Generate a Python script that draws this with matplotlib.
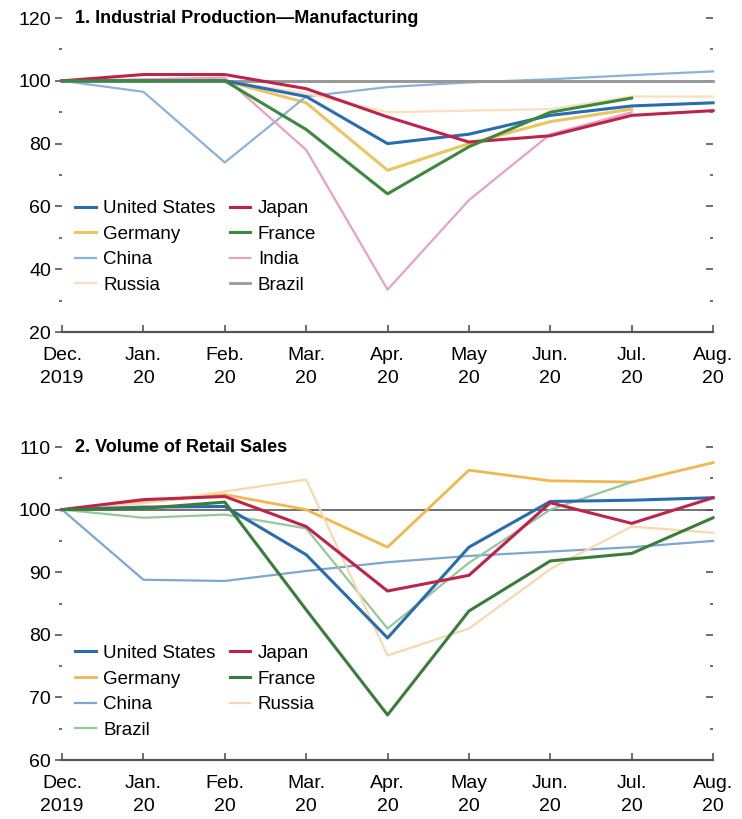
import matplotlib.pyplot as plt
import numpy as np
from matplotlib.ticker import MultipleLocator

plt.rcParams["font.family"] = ["Liberation Sans", "DejaVu Sans"]

nan = np.nan
months = ["Dec.\n2019", "Jan.\n20", "Feb.\n20", "Mar.\n20", "Apr.\n20",
          "May\n20", "Jun.\n20", "Jul.\n20", "Aug.\n20"]

# Panel 1: industrial production, manufacturing (Dec. 2019 = 100)
ip_us = [100, 100, 100, 95, 80, 83, 89, 92, 93]
ip_japan = [100, 102, 102, 97.5, 88.5, 80.5, 82.5, 89, 90.5]
ip_germany = [100, 100, 100, 93, 71.5, 80, 87, 91, nan]
ip_france = [100, 100, 100, 84.5, 64, 79, 90, 94.5, nan]
ip_china = [100, 96.5, 74, 95, 98, 99.5, 100.5, 101.8, 103]
ip_india = [100, 100.5, 101, 78, 33.5, 62, 83, 90, nan]
ip_russia = [100, 100, 100, 96, 90, 90.5, 91, 95, 95]
ip_brazil = [100, 100, 100, 100, 100, 100, 100, 100, 100]

# Panel 2: volume of retail sales (Dec. 2019 = 100)
rs_us = [100, 100.4, 100.5, 92.8, 79.5, 94, 101.3, 101.5, 101.9]
rs_japan = [100, 101.6, 102.1, 97.3, 87, 89.5, 101.1, 97.8, 101.9]
rs_germany = [100, 101.2, 102.4, 100, 94, 106.3, 104.6, 104.4, 107.5]
rs_france = [100, 100.2, 101.2, 84, 67.2, 83.8, 91.8, 93, 98.7]
rs_china = [100, 88.8, 88.6, 90.2, 91.6, 92.6, 93.3, 94, 95]
rs_russia = [100, 101, 102.9, 104.8, 76.7, 81, 90.5, 97.3, 96.3]
rs_brazil = [100, 98.7, 99.2, 97, 81, 91.5, 100, 104.4, nan]

colors = {
    "United States": "#2a6cb0",
    "Japan": "#be2349",
    "Germany": "#e9c660",
    "France": "#3c883c",
    "China": "#8db2d7",
    "India": "#e8a2bf",
    "Russia": "#fadfc0",
    "Brazil": "#999999",
}

panel1 = [
    ("United States", ip_us, 2.2), ("Germany", ip_germany, 2.2),
    ("China", ip_china, 1.6), ("Russia", ip_russia, 1.6),
    ("Japan", ip_japan, 2.2), ("France", ip_france, 2.2),
    ("India", ip_india, 1.6), ("Brazil", ip_brazil, 2.0),
]

colors2 = dict(colors)
colors2["Germany"] = "#f0b84c"
colors2["China"] = "#7fa6d0"
colors2["Russia"] = "#f8d8ae"
colors2["Brazil"] = "#96c79c"
colors2["France"] = "#3a7d3a"

panel2 = [
    ("United States", rs_us, 2.2), ("Germany", rs_germany, 2.0),
    ("China", rs_china, 1.6), ("Brazil", rs_brazil, 1.6),
    ("Japan", rs_japan, 2.2), ("France", rs_france, 2.2),
    ("Russia", rs_russia, 1.6),
]

fig = plt.figure(figsize=(7.42, 8.19), dpi=100)
ax1 = fig.add_axes([0.0836, 0.5946, 0.8774, 0.3834])
ax2 = fig.add_axes([0.0836, 0.0720, 0.8774, 0.3822])

x = np.arange(len(months))
dark = "#555555"
tick_fs = 14
leg_fs = 13.5
title_fs = 13


def draw_panel(ax, series, cols, title, ylo, yhi, major, minor, ref_color, ref_lw, leg_y):
    ax.axhline(100, color=ref_color, lw=ref_lw, zorder=1)
    handles = []
    for name, vals, lw in series:
        (ln,) = ax.plot(x, vals, color=cols[name], lw=lw, label=name,
                        clip_on=False, zorder=2)
        handles.append(ln)
    # darker lines sit on top
    for ln in handles:
        if ln.get_label() in ("United States", "Japan", "France"):
            ln.set_zorder(3)

    ax.set_xlim(0, 8)
    ax.set_ylim(ylo, yhi)
    ax.set_xticks(x)
    ax.set_xticklabels(months, fontsize=tick_fs, linespacing=1.45)
    ax.yaxis.set_major_locator(MultipleLocator(major))
    ax.yaxis.set_minor_locator(MultipleLocator(minor))
    ax.tick_params(axis="y", which="both", left=True, right=True,
                   labelsize=tick_fs, color=dark)
    ax.tick_params(axis="y", which="major", direction="out", length=5, width=1.2, pad=3)
    ax.tick_params(axis="y", which="minor", direction="out", length=2.5, width=1.2)
    ax.tick_params(axis="x", which="major", direction="in", length=5, width=1.2,
                   color=dark, pad=11)
    for side in ("top", "left", "right"):
        ax.spines[side].set_visible(False)
    ax.spines["bottom"].set_color(dark)
    ax.spines["bottom"].set_linewidth(1.6)

    ax.text(0.02, 1.0, title, transform=ax.transAxes, fontsize=title_fs,
            fontweight="bold", ha="left", va="center")

    ax.legend(handles=handles, ncol=2, loc="upper left",
              bbox_to_anchor=(0.0, leg_y),
              frameon=False, fontsize=leg_fs, handlelength=1.1, handletextpad=0.4,
              columnspacing=0.75, labelspacing=0.45, borderaxespad=0.3)


draw_panel(ax1, panel1, colors, "1. Industrial Production\u2014Manufacturing",
           20, 120, 20, 10, "#8f8f8f", 2.0, 0.462)
draw_panel(ax2, panel2, colors2, "2. Volume of Retail Sales",
           60, 110, 10, 5, "#666666", 1.3, 0.41)

# right-side ticks point inward
for ax in (ax1, ax2):
    for t in ax.yaxis.get_major_ticks() + ax.yaxis.get_minor_ticks():
        t.tick2line.set_marker(0)

fig.savefig("out.png", dpi=100)
